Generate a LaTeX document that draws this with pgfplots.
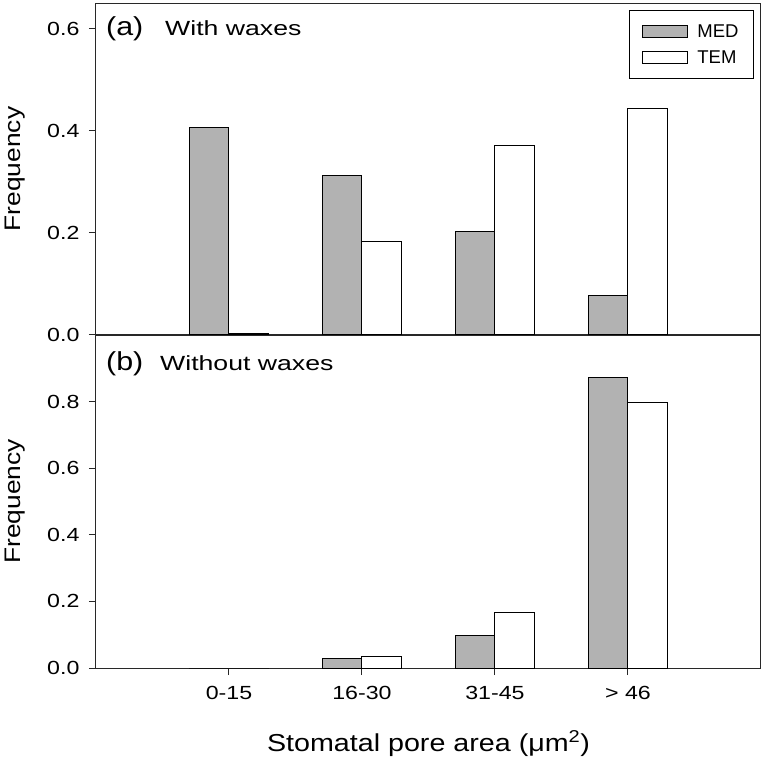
\documentclass[border=0pt]{standalone}
\usepackage{fontspec}
\setmainfont{Liberation Sans}[FakeStretch=1.17]
\newfontfamily\tickfont{Liberation Sans}[FakeStretch=1.22]
\newfontfamily\titlefont{Liberation Sans}[FakeStretch=1.3]
\newfontfamily\legfont{Liberation Sans}
\usepackage{pgfplots}
\pgfplotsset{compat=1.18}
\usepackage{pgfplotstable}

\definecolor{medgray}{RGB}{178,178,178}
\definecolor{axgray}{RGB}{40,40,40}

\pgfplotstableread{
x med tem
1 0.406 0.003
2 0.312 0.183
3 0.203 0.371
4 0.0775 0.443
}\withwax

\pgfplotstableread{
x med tem
1 0.000 0.000
2 0.028 0.035
3 0.099 0.167
4 0.871 0.797
}\withoutwax

\pgfplotsset{
  panel/.style={
    scale only axis, width=665pt,
    xmin=0, xmax=5,
    ybar, bar width=0.3,
    axis line style={line width=1pt, axgray},
    every tick/.style={line width=1pt, axgray},
    ytick pos=left, xtick pos=bottom,
    tick align=outside, major tick length=7pt,
    /pgf/number format/fixed,
    /pgf/number format/fixed zerofill,
    /pgf/number format/precision=1,
    /pgf/number format/assume math mode=true,
    tick label style={font=\tickfont\fontsize{19}{21}\selectfont},
    yticklabel style={xshift=-6pt},
    ylabel={Frequency},
    ylabel style={at={(axis description cs:-0.1218,0.5)}, anchor=center, font=\fontsize{22.5}{25}\selectfont},
    clip=false,
  },
  medbar/.style={fill=medgray, draw=black, line width=1pt, bar shift=-0.15,
    legend image code/.code={\draw[fill=medgray, draw=black, line width=1pt] (0pt,-6pt) rectangle (45pt,6pt);}},
  tembar/.style={fill=white, draw=black, line width=1pt, bar shift=0.15,
    legend image code/.code={\draw[fill=white, draw=black, line width=1pt] (0pt,-6pt) rectangle (45pt,6pt);}},
}

\begin{document}
\begin{tikzpicture}
\useasboundingbox (-96pt,-96pt) rectangle (668pt,668pt);

% bottom panel
\begin{axis}[panel, at={(0pt,0pt)}, anchor=south west, height=333pt,
  ymin=0, ymax=1.0, ytick={0,0.2,0.4,0.6,0.8},
  xtick={1,2,3,4}, xticklabels={0-15,16-30,31-45,> 46},
  xticklabel style={yshift=-8pt},
  xlabel={Stomatal pore area (μm\textsuperscript{2})},
  xlabel style={at={(axis description cs:0.5,-0.228)}, anchor=center, font=\fontsize{24.5}{27}\selectfont},
]
\addplot[medbar] table[x=x, y=med] {\withoutwax};
\addplot[tembar] table[x=x, y=tem] {\withoutwax};
\node[anchor=base west, inner sep=0pt, font=\fontsize{26}{28}\selectfont] at (rel axis cs:0,1) [xshift=10pt, yshift=-35.5pt] {(b)};
\node[anchor=base west, inner sep=0pt, font=\titlefont\fontsize{20.5}{23}\selectfont] at (rel axis cs:0,1) [xshift=64pt, yshift=-35.5pt] {Without waxes};
\end{axis}

% top panel
\begin{axis}[panel, at={(0pt,333pt)}, anchor=south west, height=332pt,
  ymin=0, ymax=0.65, ytick={0,0.2,0.4,0.6},
  xtick=\empty,
  legend cell align=left,
  legend style={at={(rel axis cs:1,1)}, anchor=north east, xshift=-7pt, yshift=-7pt,
    draw=black, line width=1pt, font=\legfont\fontsize{18.5}{20}\selectfont,
    inner xsep=13pt, inner ysep=12pt, row sep=7.8pt,
    nodes={inner sep=2pt},
    /tikz/every odd column/.append style={column sep=7pt}},
]
\addplot[medbar] table[x=x, y=med] {\withwax};
\addlegendentry{MED}
\addplot[tembar] table[x=x, y=tem] {\withwax};
\addlegendentry{TEM}
\node[anchor=base west, inner sep=0pt, font=\fontsize{26}{28}\selectfont] at (rel axis cs:0,1) [xshift=10pt, yshift=-32pt] {(a)};
\node[anchor=base west, inner sep=0pt, font=\titlefont\fontsize{20.5}{23}\selectfont] at (rel axis cs:0,1) [xshift=69pt, yshift=-32pt] {With waxes};
\end{axis}
\end{tikzpicture}
\end{document}
